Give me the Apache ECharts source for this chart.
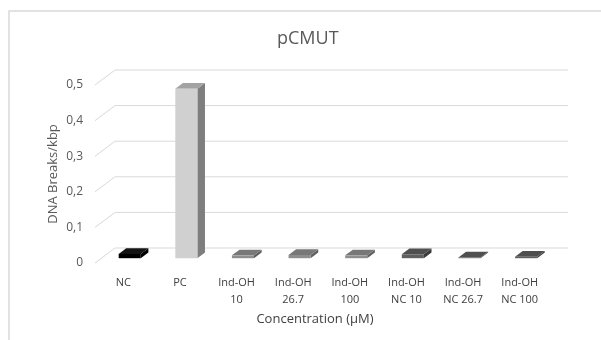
<!DOCTYPE html>
<html>
<head>
<meta charset="utf-8">
<script src="https://cdn.jsdelivr.net/npm/echarts@6/dist/echarts.min.js"></script>
<style>
  html, body { margin: 0; padding: 0; background: #fff; }
  #chart { width: 601px; height: 340px; }
</style>
</head>
<body>
<div id="chart"></div>
<script>
const categories = ['NC', 'PC', 'Ind-OH\n10', 'Ind-OH\n26.7', 'Ind-OH\n100', 'Ind-OH\nNC 10', 'Ind-OH\nNC 26.7', 'Ind-OH\nNC 100']
const breaks = [0.012, 0.476, 0.008, 0.009, 0.008, 0.011, 0.002, 0.004]
const yTicks = [0, 0.1, 0.2, 0.3, 0.4, 0.5]

// front / top / side shades per bar
const shades = [
  ['#000000', '#141414', '#000000'],
  ['#d0d0d0', '#a3a3a3', '#7e7e7e'],
  ['#8e8e8e', '#787878', '#5f5f5f'],
  ['#8e8e8e', '#787878', '#5f5f5f'],
  ['#8e8e8e', '#787878', '#5f5f5f'],
  ['#5f5f5f', '#4f4f4f', '#3b3b3b'],
  ['#5f5f5f', '#4f4f4f', '#3b3b3b'],
  ['#5f5f5f', '#4f4f4f', '#3b3b3b']
]

// depth of the fake 3d box (back wall offset)
const DX = 20
const DY = 15
const D1 = 0.32
const D2 = 0.7

const chart = echarts.init(document.getElementById('chart'))

const option = {
  animation: false,
  backgroundColor: '#fff',
  title: {
    text: 'pCMUT',
    left: 272,
    top: 25,
    textStyle: { color: '#595959', fontSize: 18, fontWeight: 'normal', fontFamily: 'Open Sans' }
  },
  graphic: [{
    type: 'rect',
    shape: { x: 9, y: 11, width: 620, height: 360 },
    style: { fill: 'none', stroke: '#d9d9d9', lineWidth: 1.5 },
    silent: true
  }],
  grid: { left: 95, right: 53, top: 85, bottom: 77 },
  xAxis: {
    type: 'category',
    data: categories,
    name: 'Concentration (µM)',
    nameLocation: 'middle',
    nameGap: 50,
    nameMoveOverlap: false,
    nameTextStyle: { color: '#404040', fontSize: 13, fontFamily: 'Open Sans', padding: [0, 13, 0, 0] },
    axisLine: { show: false },
    axisTick: { show: false },
    axisLabel: { color: '#404040', fontSize: 11, fontFamily: 'Open Sans', lineHeight: 17, margin: 11 }
  },
  yAxis: {
    type: 'value',
    min: 0,
    max: 0.5,
    interval: 0.1,
    name: 'DNA Breaks/kbp',
    nameLocation: 'middle',
    nameGap: 35,
    nameMoveOverlap: false,
    nameTextStyle: { color: '#595959', fontSize: 13, fontFamily: 'Open Sans' },
    axisLine: { show: false },
    axisTick: { show: false },
    splitLine: { show: false },
    axisLabel: {
      color: '#595959', fontSize: 12, fontFamily: 'Open Sans', margin: 12,
      formatter: (v) => String(Math.round(v * 10) / 10).replace('.', ',')
    }
  },
  series: [
    {
      type: 'custom',
      name: 'wall',
      z: 1,
      silent: true,
      data: yTicks.map((t) => [0, t]),
      renderItem: (params, api) => {
        const cs = params.coordSys
        const y = api.coord([0, api.value(1)])[1]
        return {
          type: 'polyline',
          shape: { points: [[cs.x, y], [cs.x + DX, y - DY], [cs.x + cs.width + DX, y - DY]] },
          style: { stroke: '#d9d9d9', lineWidth: 1, fill: 'none' }
        }
      }
    },
    {
      type: 'custom',
      name: 'DNA Breaks/kbp',
      z: 3,
      data: breaks.map((v, i) => [i, v]),
      renderItem: (params, api) => {
        const i = api.value(0)
        const top = api.coord([i, api.value(1)])
        const base = api.coord([i, 0])
        const w = api.size([1, 0])[0] * 0.39
        const c = shades[i]
        const x0 = top[0] - w / 2 + DX * D1
        const x1 = x0 + w
        const yt = top[1] - DY * D1
        const yb = base[1] - DY * D1
        const ox = DX * (D2 - D1)
        const oy = DY * (D2 - D1)
        return {
          type: 'group',
          children: [
            {
              type: 'polygon',
              shape: { points: [[x1, yt], [x1 + ox, yt - oy], [x1 + ox, yb - oy], [x1, yb]] },
              style: { fill: c[2] }
            },
            {
              type: 'polygon',
              shape: { points: [[x0, yt], [x0 + ox, yt - oy], [x1 + ox, yt - oy], [x1, yt]] },
              style: { fill: c[1] }
            },
            {
              type: 'rect',
              shape: { x: x0, y: yt, width: w, height: yb - yt },
              style: { fill: c[0] }
            }
          ]
        }
      }
    }
  ]
}

chart.setOption(option)
</script>
</body>
</html>
